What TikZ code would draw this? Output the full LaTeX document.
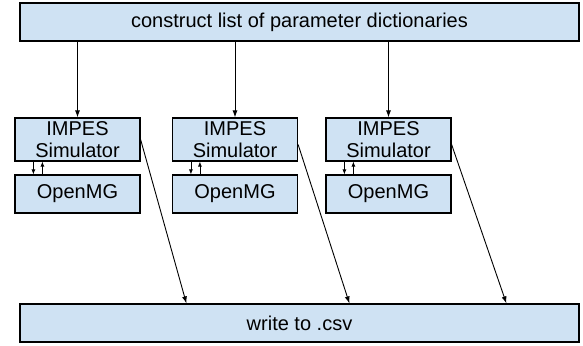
\documentclass[tikz,border=0pt]{standalone}
\usepackage{fontspec}
\setmainfont{Liberation Sans}
\usetikzlibrary{arrows.meta,calc}
\definecolor{boxfill}{HTML}{CFE2F3}
\tikzset{
  stepbox/.style={draw=black, line width=1.2pt, fill=boxfill, inner sep=0pt, align=center, font=\fontsize{20}{22}\selectfont},
  flow/.style={-{Latex[length=7pt,width=5pt]}, line width=0.9pt},
  link/.style={-{Latex[length=5pt,width=4pt]}, line width=0.8pt}
}
\begin{document}
\begin{tikzpicture}[x=1pt,y=-1pt]
\useasboundingbox (0,0) rectangle (583,345);
\node[stepbox, minimum width=559pt, minimum height=38pt] (params) at (299.5,22) {construct list of parameter dictionaries};
\node[stepbox, minimum width=125pt, minimum height=43pt] (sim1) at (77.5,139.5) {IMPES\\Simulator};
\node[stepbox, minimum width=125pt, minimum height=43pt] (sim2) at (235,139.5) {IMPES\\Simulator};
\node[stepbox, minimum width=125pt, minimum height=43pt] (sim3) at (388.5,139.5) {IMPES\\Simulator};
\node[stepbox, minimum width=125pt, minimum height=38pt] (mg1) at (77.5,194) {OpenMG};
\node[stepbox, minimum width=125pt, minimum height=38pt] (mg2) at (235,194) {OpenMG};
\node[stepbox, minimum width=125pt, minimum height=38pt] (mg3) at (388.5,194) {OpenMG};
\node[stepbox, minimum width=559pt, minimum height=38pt] (csv) at (299.5,323) {write to .csv};
\draw[flow] (params.south -| sim1.north) -- (sim1.north);
\draw[flow] (params.south -| sim2.north) -- (sim2.north);
\draw[flow] (params.south -| sim3.north) -- (sim3.north);
\draw[link] ($(sim1.south west)+(19,0)$) -- ($(mg1.north west)+(19,0)$);
\draw[link] ($(mg1.north west)+(28,0)$) -- ($(sim1.south west)+(28,0)$);
\draw[link] ($(sim2.south west)+(19,0)$) -- ($(mg2.north west)+(19,0)$);
\draw[link] ($(mg2.north west)+(28,0)$) -- ($(sim2.south west)+(28,0)$);
\draw[link] ($(sim3.south west)+(19,0)$) -- ($(mg3.north west)+(19,0)$);
\draw[link] ($(mg3.north west)+(28,0)$) -- ($(sim3.south west)+(28,0)$);
\draw[flow] (sim1.east) -- ($(csv.north west)+(167,0)$);
\draw[flow] ($(sim2.east)+(0,5)$) -- ($(csv.north west)+(330,0)$);
\draw[flow] ($(sim3.east)+(0,5)$) -- ($(csv.north west)+(487,0)$);
\end{tikzpicture}
\end{document}
